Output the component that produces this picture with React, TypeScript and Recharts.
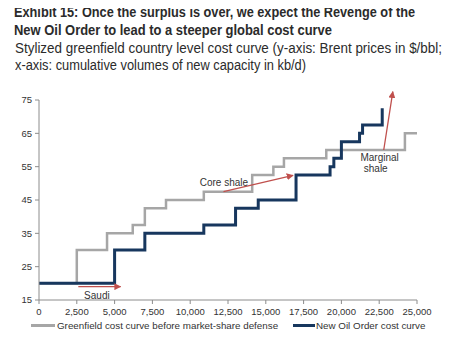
import React from 'react';
import { LineChart, Line, XAxis, YAxis, ReferenceLine, ReferenceDot } from 'recharts';

const xTicks = [0, 2500, 5000, 7500, 10000, 12500, 15000, 17500, 20000, 22500, 25000];
const yTicks = [15, 25, 35, 45, 55, 65, 75];

const greenX = [0, 2500, 4500, 6200, 7000, 8400, 10900, 14100, 15500, 16200, 19000, 24200, 25000];
const greenY = [20, 30, 35, 37.5, 42.5, 45, 47.5, 52.5, 55, 57.5, 60, 65, 65];

const newX = [0, 5000, 7000, 10900, 13000, 14500, 17000, 19250, 19500, 20000, 21200, 21400, 22700];
const newY = [20, 30, 35, 37.5, 42.5, 45, 52.5, 55, 57.5, 62.5, 65, 67.5, 72.5];

const seriesNames = ['Greenfield cost curve before market-share defense', 'New Oil Order cost curve'];
const seriesColors = ['#a6a6a6', '#17375e'];

const titleLines = [
  'Exhibit 15: Once the surplus is over, we expect the Revenge of the',
  'New Oil Order to lead to a steeper global cost curve',
];
const subtitleLines = [
  'Stylized greenfield country level cost curve (y-axis: Brent prices in $/bbl;',
  'x-axis: cumulative volumes of new capacity in kb/d)',
];

const arrows = [
  { name: 'Saudi', from: { x: 2600, y: 19 }, to: { x: 5400, y: 19 } },
  { name: 'Core shale', from: { x: 12200, y: 47.5 }, to: { x: 16800, y: 52.4 } },
  { name: 'Marginal shale', from: { x: 22800, y: 60 }, to: { x: 23400, y: 77.5 } },
];

const labels = [
  { text: 'Saudi', x: 3830, y: 16.4 },
  { text: 'Core shale', x: 12230, y: 50.3 },
  { text: 'Marginal', x: 22530, y: 57.8 },
  { text: 'shale', x: 22270, y: 54.5 },
];

const greenData = greenX.map((x, i) => ({ x, y: greenY[i] }));
const newData = newX.map((x, i) => ({ x, y: newY[i] }));

const sans = '"Liberation Sans", Arial, sans-serif';

// title layout: [left, top, target width]
const titleLayout = [
  [14, 2.4, 401],
  [14, 20.1, 318],
  [15, 37.8, 427],
  [15, 55.3, 291],
];

function measure(text: string, bold: boolean): number {
  try {
    const c = document.createElement('canvas');
    const ctx = c.getContext('2d');
    if (!ctx) return 0;
    ctx.font = `${bold ? 'bold ' : ''}14px "Liberation Sans", Arial, sans-serif`;
    return ctx.measureText(text).width;
  } catch (e) {
    return 0;
  }
}

export default function App() {
  const allTitle = [...titleLines, ...subtitleLines];
  return (
    <div style={{ position: 'relative', width: 450, height: 347, margin: -8, background: '#fff', overflow: 'hidden' }}>
      <svg width={0} height={0} style={{ position: 'absolute' }}>
        <defs>
          <marker id="arrRed" viewBox="0 0 10 10" refX="9" refY="5" markerWidth="7" markerHeight="7" orient="auto" markerUnits="userSpaceOnUse">
            <path d="M0,0 L10,5 L0,10 z" fill="#c0504d" />
          </marker>
        </defs>
      </svg>
      {allTitle.map((t, i) => {
        const bold = i < 2;
        const w = measure(t, bold);
        const s = w > 0 ? titleLayout[i][2] / w : 0.85;
        return (
          <div
            key={i}
            style={{
              position: 'absolute',
              left: titleLayout[i][0],
              top: titleLayout[i][1],
              fontFamily: sans,
              fontSize: 14,
              lineHeight: '20px',
              fontWeight: bold ? 'bold' : 'normal',
              color: '#2b2b2b',
              whiteSpace: 'nowrap',
              transform: `scaleX(${s})`,
              transformOrigin: '0 0',
            }}
          >
            {t}
          </div>
        );
      })}
      <LineChart width={450} height={347} margin={{ top: 100, right: 33, bottom: 27, left: 9 }} style={{ position: 'absolute', left: 0, top: 0 }}>
        <XAxis
          dataKey="x"
          type="number"
          domain={[0, 25000]}
          ticks={xTicks}
          allowDuplicatedCategory={false}
          tickFormatter={(v: number) => v.toLocaleString('en-US')}
          height={20}
          tickSize={4}
          tickMargin={4}
          stroke="#8c8c8c"
          tick={{ fill: '#333', fontSize: 9.5, fontFamily: sans }}
          interval={0}
        />
        <YAxis
          type="number"
          domain={[15, 75]}
          ticks={yTicks}
          width={30}
          tickSize={4}
          tickMargin={3}
          stroke="#8c8c8c"
          tick={{ fill: '#333', fontSize: 9.5, fontFamily: sans }}
          interval={0}
        />
        <Line data={greenData} dataKey="y" name={seriesNames[0]} type="stepAfter" stroke={seriesColors[0]} strokeWidth={2.5} dot={false} activeDot={false} isAnimationActive={false} />
        <Line data={newData} dataKey="y" name={seriesNames[1]} type="stepAfter" stroke={seriesColors[1]} strokeWidth={3} dot={false} activeDot={false} isAnimationActive={false} />
        {arrows.map((a) => (
          <ReferenceLine key={a.name} segment={[a.from, a.to]} ifOverflow="visible" stroke="#c0504d" strokeWidth={1.3} markerEnd="url(#arrRed)" />
        ))}
        {labels.map((l) => (
          <ReferenceDot
            key={l.text}
            x={l.x}
            y={l.y}
            r={0}
            fill="none"
            stroke="none"
            ifOverflow="visible"
            label={{ value: l.text, position: 'center', fill: '#333', fontSize: 10, fontFamily: sans }}
          />
        ))}
      </LineChart>
      <div style={{ position: 'absolute', left: 31, top: 320, display: 'flex', alignItems: 'center', fontFamily: sans, fontSize: 9.8, color: '#333', whiteSpace: 'nowrap' }}>
        <span style={{ display: 'inline-block', width: 24, height: 3, background: seriesColors[0], marginRight: 2 }} />
        <span>{seriesNames[0]}</span>
      </div>
      <div style={{ position: 'absolute', left: 293, top: 320, display: 'flex', alignItems: 'center', fontFamily: sans, fontSize: 9.8, color: '#333', whiteSpace: 'nowrap' }}>
        <span style={{ display: 'inline-block', width: 22, height: 3, background: seriesColors[1], marginRight: 1 }} />
        <span>{seriesNames[1]}</span>
      </div>
    </div>
  );
}
